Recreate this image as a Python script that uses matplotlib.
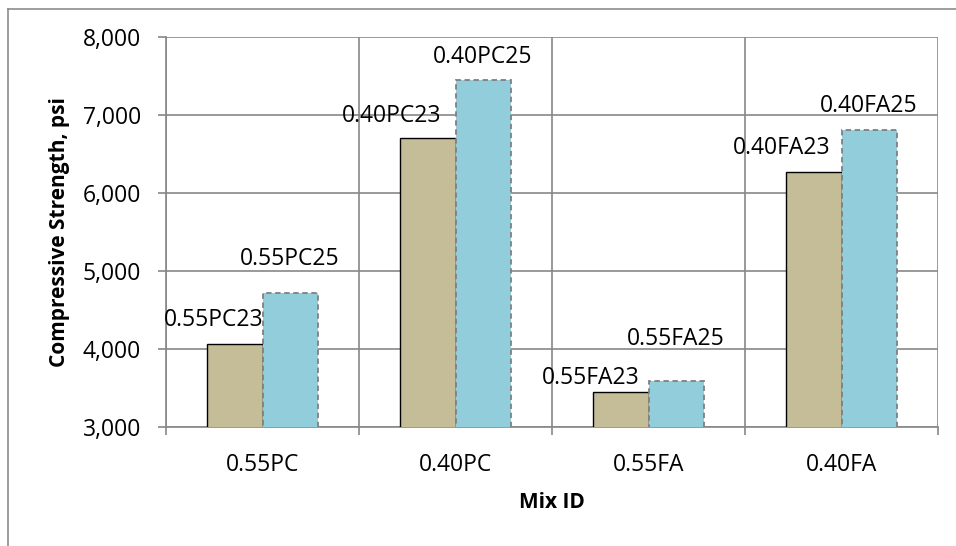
import matplotlib
matplotlib.use("Agg")
import matplotlib.pyplot as plt
from matplotlib.lines import Line2D
import numpy as np

categories = ["0.55PC", "0.40PC", "0.55FA", "0.40FA"]
series23_labels = ["0.55PC23", "0.40PC23", "0.55FA23", "0.40FA23"]
series25_labels = ["0.55PC25", "0.40PC25", "0.55FA25", "0.40FA25"]
values23 = [4060, 6700, 3450, 6270]
values25 = [4720, 7450, 3590, 6810]
yticks = [3000, 4000, 5000, 6000, 7000, 8000]

# label placement offsets (pixels: x shift, baseline above bar top)
off23 = [(-21, 18), (-36, 16), (-30, 8), (-32, 18)]
off25 = [(0, 28), (0, 17), (0, 36), (0, 18)]

plt.rcParams['font.family'] = ['Open Sans', 'DejaVu Sans']
grid_c = '#878787'
FS = 16.5

fig = plt.figure(figsize=(9.56, 5.46), dpi=100)
ax = fig.add_axes([166/956, 1-427/546, (938-166)/956, (427-37)/546])

x = np.arange(len(categories))
w = 0.285
ax.bar(x - w/2, values23, w, color='#C4BD97', edgecolor='black', linewidth=1.0, zorder=3)
ax.bar(x + w/2, values25, w, color='#92CDDC', edgecolor='#808080', linewidth=1.3,
       linestyle=(0, (3, 2)), zorder=3)

ax.set_ylim(3000, 8000)
ax.set_xlim(-0.5, len(categories) - 0.5)
ax.set_yticks(yticks)
ax.set_yticklabels([f"{v:,}" for v in yticks], fontsize=FS)
ax.set_xticks(x)
ax.set_xticklabels(categories, fontsize=FS)
ax.tick_params(axis='x', length=0, pad=19)
ax.set_xticks(np.arange(-0.5, len(categories)), minor=True)
ax.tick_params(axis='x', which='minor', length=6, color=grid_c, width=1.2)
ax.tick_params(axis='y', length=6, color=grid_c, width=1.2, pad=12)

ax.grid(axis='y', color=grid_c, linewidth=1.2, zorder=0)
ax.grid(axis='x', which='minor', color=grid_c, linewidth=1.2, zorder=0)
for s in ['top', 'right']:
    ax.spines[s].set_visible(False)
for s in ['left', 'bottom']:
    ax.spines[s].set_color(grid_c)
    ax.spines[s].set_linewidth(1.2)

for i in range(len(categories)):
    ax.annotate(series23_labels[i], (x[i] - w/2, values23[i]), xytext=off23[i],
                textcoords='offset pixels', ha='center', va='baseline', fontsize=FS, zorder=4)
    ax.annotate(series25_labels[i], (x[i] + w/2, values25[i]), xytext=off25[i],
                textcoords='offset pixels', ha='center', va='baseline', fontsize=FS, zorder=4)

ax.set_ylabel("Compressive Strength, psi", fontsize=FS - 1.5, fontweight='bold')
ax.yaxis.set_label_coords(-(166 - 60) / 772, 0.5)
ax.set_xlabel("Mix ID", fontsize=FS - 1.5, fontweight='bold')
ax.xaxis.set_label_coords(0.5, -(502 - 427) / 390)
ax.xaxis.label.set_va('center')
ax.yaxis.label.set_va('center')

# outer chart border (left and top visible)
fig.add_artist(Line2D([8/956, 8/956], [0, 1-9/546], transform=fig.transFigure, color='#8c8c8c', linewidth=1.2))
fig.add_artist(Line2D([8/956, 1], [1-9/546, 1-9/546], transform=fig.transFigure, color='#8c8c8c', linewidth=1.2))

fig.savefig("out.png", dpi=100)
